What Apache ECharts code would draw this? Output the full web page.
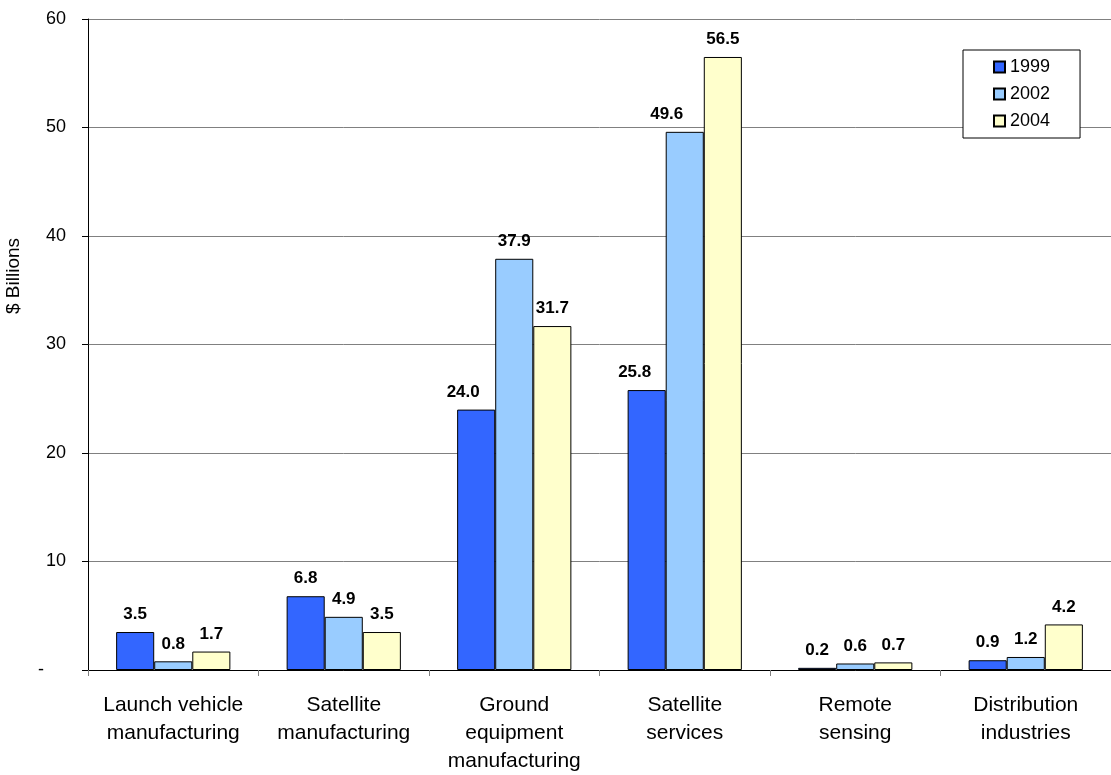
<!DOCTYPE html>
<html>
<head>
<meta charset="utf-8">
<title>Space industry revenue</title>
<script src="https://cdn.jsdelivr.net/npm/echarts@6/dist/echarts.min.js"></script>
<style>
  html, body { margin: 0; padding: 0; background: #fff; }
  #chart { width: 1111px; height: 775px; }
</style>
</head>
<body>
<div id="chart"></div>
<script>
// Revenue by industry segment, $ billions
const categories = [
  'Launch vehicle\nmanufacturing',
  'Satellite\nmanufacturing',
  'Ground\nequipment\nmanufacturing',
  'Satellite\nservices',
  'Remote\nsensing',
  'Distribution\nindustries'
];
const years = ['1999', '2002', '2004'];
const values1999 = [3.5, 6.8, 24.0, 25.8, 0.2, 0.9];
const values2002 = [0.8, 4.9, 37.9, 49.6, 0.6, 1.2];
const values2004 = [1.7, 3.5, 31.7, 56.5, 0.7, 4.2];
const yTicks = [0, 10, 20, 30, 40, 50, 60];

const seriesValues = [values1999, values2002, values2004];
const colors = ['#3366FF', '#99CCFF', '#FFFFCC'];

// labels nudged left where a taller neighbouring bar would crowd them
const labelShift = { 0: { 2: -13, 3: -12 }, 1: { 3: -18 } };

const FONT = 'Arial, "Liberation Sans", sans-serif';

const series = seriesValues.map((vals, si) => ({
  name: years[si],
  type: 'bar',
  barGap: '0%',
  barCategoryGap: '33%',
  itemStyle: { color: colors[si], borderColor: '#000', borderWidth: 1 },
  label: {
    show: true,
    position: 'top',
    distance: 9,
    fontFamily: FONT,
    fontSize: 17,
    fontWeight: 'bold',
    color: '#000',
    formatter: p => p.value.toFixed(1)
  },
  data: vals.map((v, ci) => {
    const dx = labelShift[si] && labelShift[si][ci];
    return dx ? { value: v, label: { offset: [dx, 0] } } : v;
  })
}));

const chart = echarts.init(document.getElementById('chart'), null, { renderer: 'canvas' });
chart.setOption({
  animation: false,
  backgroundColor: '#fff',
  grid: { left: 88, top: 19, width: 1035, height: 652, containLabel: false },
  legend: {
    orient: 'vertical',
    left: 963,
    top: 50,
    padding: [8, 30, 8, 30],
    itemGap: 9,
    itemWidth: 11,
    itemHeight: 11,
    icon: 'rect',
    backgroundColor: '#fff',
    borderColor: '#000',
    borderWidth: 1,
    textStyle: { fontFamily: FONT, fontSize: 18, color: '#000', lineHeight: 18 },
    data: years
  },
  xAxis: {
    type: 'category',
    data: categories,
    axisLine: { show: true, lineStyle: { color: '#000', width: 1 } },
    axisTick: { show: true, length: 6, lineStyle: { color: '#808080' } },
    axisLabel: {
      interval: 0,
      margin: 21,
      fontFamily: FONT,
      fontSize: 21,
      lineHeight: 28,
      color: '#000'
    }
  },
  yAxis: {
    type: 'value',
    min: yTicks[0],
    max: yTicks[yTicks.length - 1],
    interval: 10,
    axisLine: { show: true, lineStyle: { color: '#000', width: 1 } },
    axisTick: { show: true, length: 6, lineStyle: { color: '#000' } },
    splitLine: { show: true, lineStyle: { color: '#808080', width: 1 } },
    axisLabel: {
      margin: 22,
      fontFamily: FONT,
      fontSize: 18,
      color: '#000',
      formatter: v => (v === 0 ? '{z|-}' : String(v)),
      rich: {
        z: { fontFamily: FONT, fontSize: 18, color: '#000', padding: [0, 22, 0, 0] }
      }
    }
  },
  graphic: [{
    type: 'text',
    x: 14,
    y: 276,
    rotation: Math.PI / 2,
    style: {
      text: '$ Billions',
      fontFamily: FONT,
      fontSize: 19,
      fill: '#000',
      textAlign: 'center',
      textVerticalAlign: 'middle'
    }
  }],
  series: series
});
</script>
</body>
</html>
